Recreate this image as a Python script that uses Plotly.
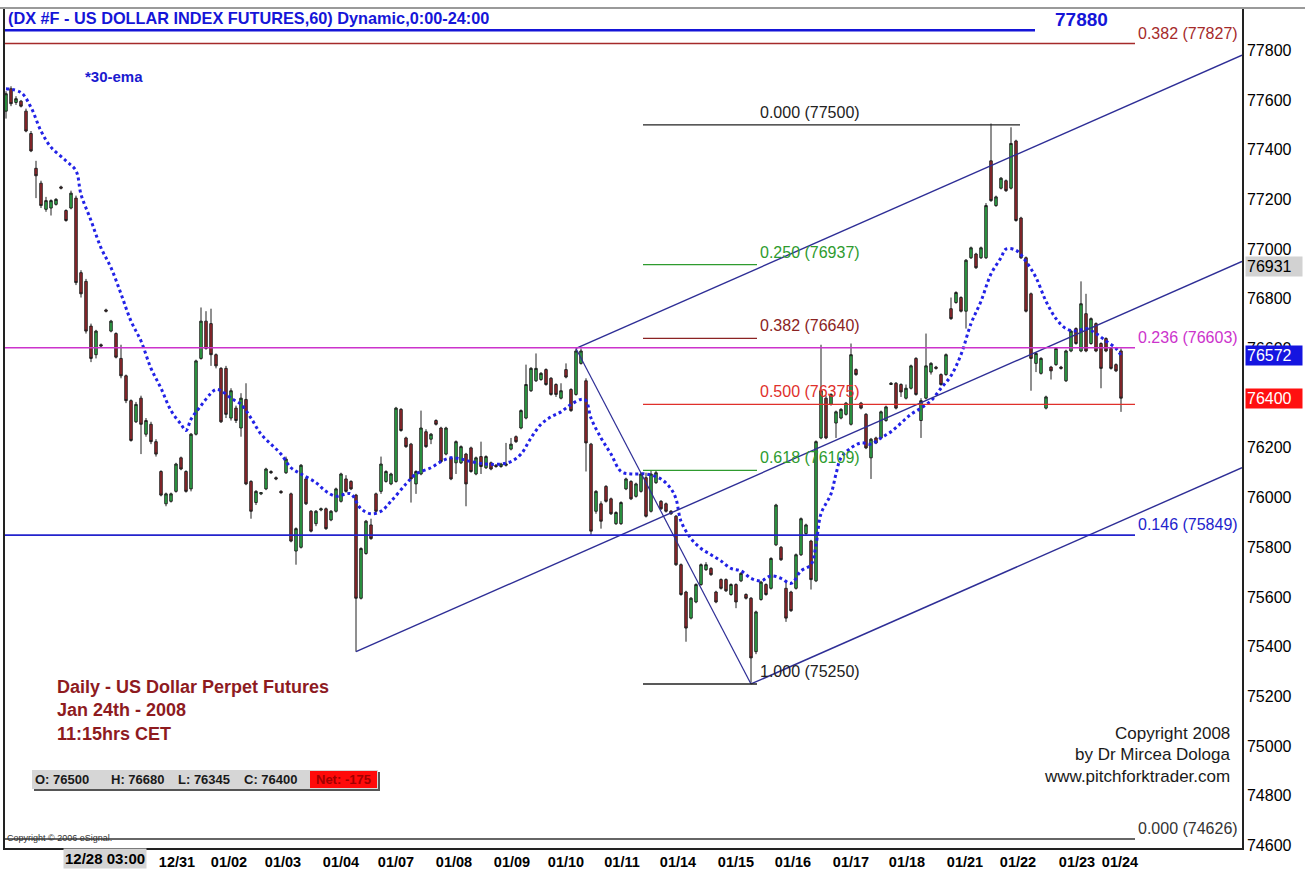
import plotly.graph_objects as go

# ---------------- data ----------------
opens = [
77555,77645,77590,77595,77555,77465,77325,77265,77160,77165,
77180,77250,77155,77165,77205,76905,76870,76690,76575,76615,
76755,76670,76660,76560,76490,76390,76305,76400,76255,76295,
76225,76105,75975,75985,76025,76160,76105,76035,76255,76560,
76710,76700,76575,76520,76520,76320,76360,76280,76395,76065,
75980,76015,76035,76105,76080,76025,76100,76015,75785,75800,
76075,75945,75895,75950,75955,75910,75945,75985,76075,76065,
76010,75595,75775,75890,76015,76025,76065,76055,76065,76355,
76240,76215,76055,76095,76265,76235,76310,76280,76175,76160,
76140,76140,76175,76200,76095,76165,76120,76140,76130,76125,
76130,76195,76245,76280,76320,76430,76470,76475,76515,76480,
76455,76400,76515,76435,76415,76540,76470,76215,75945,75975,
76045,75995,75895,75895,76035,76065,76005,76025,76080,75945,
76060,75985,75975,75945,75925,75730,75620,75515,75580,75650,
75710,75715,75620,75670,75670,75610,75650,75665,75610,75595,
75380,75590,75650,75635,75810,75800,75635,75620,75635,75770,
75855,75825,75665,76240,76400,76375,76300,76320,76335,76295,
76515,76380,76335,76160,76240,76240,76310,76455,76460,76455,
76400,76440,76560,76310,76400,76505,76525,76495,76495,76760,
76785,76805,76750,76965,76980,76965,76965,77355,77175,77245,
77275,77245,77435,77125,76965,76820,76540,76500,76360,76525,
76535,76525,76470,76590,76680,76590,76740,76620,76700,76620,
76640,76600,76535,76590]

highs = [
77635,77655,77615,77600,77565,77475,77355,77275,77210,77200,
77205,77255,77160,77235,77215,76915,76880,76700,76675,76620,
76760,76715,76665,76615,76495,76395,76385,76410,76320,76305,
76235,76110,76020,76020,76140,76165,76110,76260,76555,76765,
76750,76760,76580,76525,76530,76440,76370,76420,76460,76070,
76030,76020,76120,76110,76085,76030,76165,76020,75880,76135,
76080,75950,75950,75960,75960,75950,76040,76100,76090,76070,
76015,75800,75910,75915,76020,76165,76110,76100,76365,76360,
76245,76220,76110,76350,76275,76260,76315,76285,76285,76165,
76230,76210,76180,76205,76165,76225,76170,76145,76135,76140,
76220,76240,76250,76355,76535,76525,76580,76505,76520,76485,
76460,76460,76540,76440,76600,76600,76480,76220,76030,75985,
76050,76000,75945,75985,76080,76070,76060,76100,76100,76110,
76110,75990,75980,75950,75930,75735,75625,75600,75655,75735,
75740,75720,75625,75675,75675,75655,75655,75700,75615,75600,
75545,75665,75655,75760,75975,75805,75660,75625,75775,75920,
75895,75830,76230,76615,76410,76420,76350,76360,76385,76620,
76520,76385,76340,76240,76245,76350,76370,76465,76465,76460,
76455,76535,76565,76400,76660,76545,76530,76500,76580,76805,
76830,76810,76960,77010,76985,77010,77185,77505,77215,77290,
77280,77490,77440,77130,76970,76825,76585,76565,76410,76530,
76605,76530,76595,76675,76685,76870,76820,76725,76705,76625,
76645,76605,76540,76600]

lows = [
77525,77575,77580,77570,77470,77390,77205,77165,77150,77135,
77175,77240,77110,77160,76855,76805,76660,76545,76560,76605,
76745,76665,76560,76480,76380,76225,76300,76175,76245,76215,
76165,76005,75965,75980,76020,76110,76020,76025,76250,76555,
76595,76530,76520,76300,76320,76310,76300,76245,76050,75915,
75970,76010,76030,76095,76070,76015,76095,75820,75730,75795,
75970,75860,75885,75945,75870,75905,75940,75980,76020,76030,
75380,75590,75770,75830,75940,76015,76060,76050,76060,76265,
76200,75980,76015,76090,76200,76215,76290,76140,76170,76070,
76095,76135,75965,76100,76090,76095,76115,76110,76120,76120,
76125,76190,76220,76275,76315,76425,76465,76470,76450,76410,
76405,76395,76480,76345,76410,76535,76105,75850,75935,75875,
75980,75930,75890,75890,76030,75990,76000,76020,75920,75940,
76055,75950,75940,75930,75725,75605,75420,75510,75575,75645,
75705,75685,75575,75630,75620,75605,75555,75660,75590,75255,
75370,75585,75605,75630,75805,75745,75500,75540,75630,75765,
75850,75630,75660,76235,76235,76370,76240,76315,76330,76290,
76490,76355,76195,76075,76215,76235,76305,76455,76355,76405,
76395,76435,76410,76240,76395,76495,76515,76450,76490,76715,
76780,76745,76680,76960,76920,76960,76960,77190,77170,77240,
77230,77240,77110,76960,76745,76430,76505,76495,76355,76475,
76530,76515,76465,76585,76615,76585,76585,76615,76585,76440,
76585,76515,76505,76345]

closes = [
77625,77585,77605,77575,77475,77395,77295,77175,77195,77195,
77200,77245,77115,77225,76865,76820,76670,76560,76670,76610,
76750,76710,76565,76490,76390,76230,76375,76295,76310,76225,
76175,76010,76015,76015,76135,76115,76025,76255,76550,76710,
76600,76575,76530,76305,76335,76430,76310,76400,76055,75945,
76025,76020,76115,76100,76075,76020,76155,75825,75875,76130,
75975,75865,75945,75955,75875,75945,76035,76095,76025,76035,
75595,75795,75905,75835,75945,76135,76105,76095,76360,76270,
76205,76075,76105,76280,76205,76255,76295,76145,76280,76075,
76225,76205,76055,76105,76160,76125,76165,76115,76125,76135,
76135,76215,76225,76350,76455,76520,76520,76500,76455,76415,
76415,76430,76485,76350,76590,76590,76220,75865,76025,75905,
75985,75935,75940,75980,76075,75995,76055,76095,75925,76095,
76100,75955,75945,75935,75730,75610,75475,75595,75650,75730,
75730,75690,75580,75635,75625,75650,75580,75695,75595,75355,
75540,75660,75610,75755,75970,75750,75515,75545,75770,75915,
75890,75670,76225,76430,76240,76415,76345,76355,76380,76575,
76495,76360,76200,76235,76220,76345,76365,76460,76360,76425,
76440,76530,76415,76390,76530,76540,76520,76455,76575,76720,
76825,76750,76955,77005,76925,77005,77175,77195,77210,77285,
77235,77425,77115,76965,76750,76560,76580,76560,76405,76510,
76600,76520,76590,76670,76620,76780,76590,76720,76590,76520,
76590,76520,76510,76400]

# 30-ema (bar index, value)
ema_idx = [0,3,5,7,9,12,14,15,17,19,21,23,25,27,29,31,33,35,36,37,
           39,41,42,43,45,47,49,51,53,55,57,59,62,64,66,68,69,71,73,75,
           77,80,82,85,87,89,91,93,96,99,101,103,105,107,109,111,113,115,116,117,
           119,121,123,125,128,131,133,134,135,137,139,141,143,145,147,149,151,153,155,157,
           159,161,162,163,165,166,167,169,171,173,175,177,179,181,183,185,187,189,191,193,
           195,197,199,200,202,204,206,208,210,212,214,216,218,220,222,223]
ema_val = [77645,77630,77570,77475,77410,77355,77315,77220,77115,77005,
           76925,76820,76710,76630,76520,76440,76350,76295,76270,76315,
           76370,76420,76435,76430,76400,76375,76320,76255,76215,76175,
           76120,76095,76060,76025,76005,76015,76015,75955,75935,75945,
           75985,76055,76095,76120,76145,76160,76155,76145,76135,76135,
           76145,76175,76240,76295,76325,76345,76375,76395,76390,76320,
           76240,76175,76105,76095,76095,76075,76035,75995,75905,75835,
           75795,75770,75745,75715,75705,75675,75665,75685,75675,75655,
           75705,75730,75810,75935,76015,76095,76160,76200,76220,76215,
           76240,76265,76300,76335,76360,76390,76440,76490,76575,76700,
           76790,76900,76965,77000,76995,76950,76885,76790,76720,76680,
           76670,76680,76660,76630,76600,76572]

day_labels = ["12/31", "01/02", "01/03", "01/04", "01/07", "01/08", "01/09",
              "01/10", "01/11", "01/14", "01/15", "01/16", "01/17", "01/18",
              "01/21", "01/22", "01/23", "01/24"]
day_pos = [34.2, 44.6, 55.4, 67.0, 78.0, 89.6, 101.2, 112.0, 123.2, 134.4,
           146.0, 157.4, 169.0, 180.2, 191.8, 202.4, 214.2, 222.8]
first_label = "12/28 03:00"
first_pos = 19.8

y_ticks = list(range(74600, 77801, 200))

# Andrews pitchfork anchors (bar index, price)
fork_idx = [70, 114, 149]
fork_val = [75380, 76600, 75250]

# Fibonacci retracement 75250 -> 77500
fib_low, fib_high = 75250, 77500
fib_ratios = [0.000, 0.250, 0.382, 0.500, 0.618, 1.000]
fib_colors = ["#222222", "#2E9B2E", "#8B2323", "#E0302B", "#2E9B2E", "#222222"]

# Second fib set (right side)
ext_ratios = [0.382, 0.236, 0.146, 0.000]
ext_values = [77827, 76603, 75849, 74626]
ext_colors = ["#A52A2A", "#CC33CC", "#2323CC", "#333333"]
top_level = 77880

day_o, day_h, day_l, day_c, day_net = 76500, 76680, 76345, 76400, -175
last_ema = 76572
median_tag = 76931

# ---------------- layout constants ----------------
W, H = 1305, 888
L, R, T, B = 5, 63, 8, 40
x_left, x_right = -0.2, 247.2
y_lo, y_hi = 74590, 77970
fib_x0, fib_x1, fib_top_x1 = 127.4, 150.2, 202.8
ext_x1, top_x1 = 225.8, 205.8
FONT = "Liberation Sans, Arial, sans-serif"


def PX(xp):
    return (xp - L) / (W - L - R)


def PY(yp):
    return (H - B - yp) / (H - T - B)


x_idx = list(range(len(opens)))

fig = go.Figure()

fig.add_trace(go.Candlestick(
    x=x_idx, open=opens, high=highs, low=lows, close=closes,
    increasing=dict(fillcolor="#2DB84A", line=dict(color="#202020", width=1)),
    decreasing=dict(fillcolor="#A3262B", line=dict(color="#202020", width=1)),
    whiskerwidth=0, showlegend=False, hoverinfo="skip"))

fig.add_trace(go.Scatter(
    x=ema_idx, y=ema_val, mode="lines", line_shape="spline",
    line=dict(color="#2222E6", width=3, dash="dot"),
    showlegend=False, hoverinfo="skip"))

# pitchfork
(ax, bx, cx), (ay, by, cy) = fork_idx, fork_val
mx, my = (bx + cx) / 2, (by + cy) / 2
slope = (my - ay) / (mx - ax)
fork_col = "#2E2E96"
for (sx, sy) in [(ax, ay), (bx, by), (cx, cy)]:
    fig.add_trace(go.Scatter(
        x=[sx, x_right], y=[sy, sy + slope * (x_right - sx)], mode="lines",
        line=dict(color=fork_col, width=1.4), showlegend=False, hoverinfo="skip"))
fig.add_trace(go.Scatter(x=[bx, cx], y=[by, cy], mode="lines",
                         line=dict(color=fork_col, width=1.2),
                         showlegend=False, hoverinfo="skip"))

shapes = []
annotations = []

# top blue level
shapes.append(dict(type="line", xref="x", yref="y", x0=x_left, x1=top_x1,
                   y0=top_level, y1=top_level, line=dict(color="#1515D8", width=2.5)))
annotations.append(dict(x=215, y=top_level, xref="x", yref="y", text="<b>%d</b>" % top_level,
                        showarrow=False, xanchor="center", yanchor="bottom", yshift=-2,
                        font=dict(family=FONT, size=19, color="#1515D8")))

# right side fib set
for r, v, c in zip(ext_ratios, ext_values, ext_colors):
    shapes.append(dict(type="line", xref="x", yref="y", x0=x_left, x1=ext_x1,
                       y0=v, y1=v, line=dict(color=c, width=1.6)))
    annotations.append(dict(x=ext_x1 + 0.2, y=v, xref="x", yref="y",
                            text="%.3f (%d)" % (r, v), showarrow=False,
                            xanchor="left", yanchor="bottom", yshift=0,
                            font=dict(family=FONT, size=16, color=c)))

# fib retracement
rng = fib_high - fib_low
for r, c in zip(fib_ratios, fib_colors):
    v = fib_high - r * rng
    x1 = fib_x1
    if r == 0.0:
        x1 = fib_top_x1
    if r == 0.5:
        x1 = ext_x1
    shapes.append(dict(type="line", xref="x", yref="y", x0=fib_x0, x1=x1,
                       y0=v, y1=v, line=dict(color=c, width=1.3)))
    annotations.append(dict(x=fib_x1 + 0.1, y=v, xref="x", yref="y",
                            text="%.3f (%d)" % (r, int(v)), showarrow=False,
                            xanchor="left", yanchor="bottom", yshift=2,
                            font=dict(family=FONT, size=16, color=c)))

# top gray frame line
shapes.append(dict(type="line", xref="paper", yref="paper", x0=-0.01, x1=1.06,
                   y0=1, y1=1, line=dict(color="#9A9A9A", width=2)))

# title
annotations.append(dict(x=PX(6), y=PY(18), xref="paper", yref="paper",
                        text="<b>(DX #F - US DOLLAR INDEX FUTURES,60) Dynamic,0:00-24:00</b>",
                        showarrow=False, xanchor="left", yanchor="middle",
                        font=dict(family=FONT, size=16.3, color="#1515D8")))
annotations.append(dict(x=PX(83), y=PY(76), xref="paper", yref="paper",
                        text="<b>*30-ema</b>", showarrow=False, xanchor="left",
                        yanchor="middle", font=dict(family=FONT, size=15, color="#1A1AD0")))

# left comment block
for txt, yp in [("Daily - US Dollar Perpet Futures", 687), ("Jan 24th - 2008", 710),
                ("11:15hrs CET", 734)]:
    annotations.append(dict(x=PX(55), y=PY(yp), xref="paper", yref="paper",
                            text="<b>%s</b>" % txt, showarrow=False, xanchor="left",
                            yanchor="middle", font=dict(family=FONT, size=18, color="#8E1B1F")))

# OHLC strip
shapes.append(dict(type="rect", xref="paper", yref="paper", x0=PX(34), x1=PX(380),
                   y0=PY(791), y1=PY(772), fillcolor="#555555", line=dict(width=0)))
shapes.append(dict(type="rect", xref="paper", yref="paper", x0=PX(32), x1=PX(378),
                   y0=PY(789), y1=PY(770), fillcolor="#D6D6D6", line=dict(width=0)))
shapes.append(dict(type="rect", xref="paper", yref="paper", x0=PX(310), x1=PX(377),
                   y0=PY(788), y1=PY(771), fillcolor="#FF0A0A", line=dict(width=0)))
for txt, xp in [("O: %d" % day_o, 62), ("H: %d" % day_h, 137), ("L: %d" % day_l, 204),
                ("C: %d" % day_c, 270)]:
    annotations.append(dict(x=PX(xp), y=PY(779), xref="paper", yref="paper",
                            text="<b>%s</b>" % txt, showarrow=False, xanchor="center",
                            yanchor="middle", font=dict(family=FONT, size=13, color="#1a1a1a")))
annotations.append(dict(x=PX(343), y=PY(779), xref="paper", yref="paper",
                        text="<b>Net: %d</b>" % day_net, showarrow=False, xanchor="center",
                        yanchor="middle", font=dict(family=FONT, size=13, color="#A00000")))

# copyright texts
for txt, yp in [("Copyright 2008", 733), ("by Dr Mircea Dologa", 754),
                ("www.pitchforktrader.com", 776)]:
    annotations.append(dict(x=PX(1232), y=PY(yp), xref="paper", yref="paper",
                            text=txt, showarrow=False, xanchor="right", yanchor="middle",
                            font=dict(family=FONT, size=17, color="#1a1a1a")))
annotations.append(dict(x=PX(5), y=PY(838), xref="paper", yref="paper",
                        text="Copyright \u00a9 2006 eSignal.", showarrow=False,
                        xanchor="left", yanchor="middle",
                        font=dict(family=FONT, size=9, color="#333333")))

# axis tags
for v, bg, fg in [(median_tag, "#D2D2D2", "#000000"), (last_ema, "#1515E0", "#FFFFFF"),
                  (day_c, "#FF1010", "#FFFFFF")]:
    annotations.append(dict(x=PX(1245), y=v, xref="paper", yref="y", text="%d" % v,
                            showarrow=False, xanchor="left", yanchor="middle",
                            bgcolor=bg, borderpad=1, width=54, align="left",
                            font=dict(family=FONT, size=16, color=fg)))

# first x label with gray background
annotations.append(dict(x=first_pos, y=PY(858), xref="x", yref="paper",
                        text="<b>%s</b>" % first_label, showarrow=False,
                        xanchor="center", yanchor="middle", bgcolor="#D4D4D4",
                        font=dict(family=FONT, size=15, color="#000000")))

fig.update_layout(
    width=W, height=H, margin=dict(l=L, r=R, t=T, b=B, autoexpand=False),
    paper_bgcolor="white", plot_bgcolor="white",
    shapes=shapes, annotations=annotations, showlegend=False,
    xaxis=dict(range=[x_left, x_right], tickvals=day_pos,
               ticktext=["<b>%s</b>" % d for d in day_labels], tickangle=0,
               tickfont=dict(family=FONT, size=14.5, color="#000000"),
               showgrid=False, zeroline=False, showline=True, linecolor="#222222",
               linewidth=2, ticks="", automargin=False,
               rangeslider=dict(visible=False), fixedrange=True),
    yaxis=dict(range=[y_lo, y_hi], tickvals=y_ticks, ticktext=[str(v) for v in y_ticks],
               side="right", tickfont=dict(family=FONT, size=16, color="#000000"),
               showgrid=False, zeroline=False, showline=True, mirror=True,
               linecolor="#222222", linewidth=1.5, ticks="", automargin=False,
               fixedrange=True),
)

fig.write_html("out.html", config={"displayModeBar": False},
               post_script="document.body.style.margin='0px';document.body.style.padding='0px';")
